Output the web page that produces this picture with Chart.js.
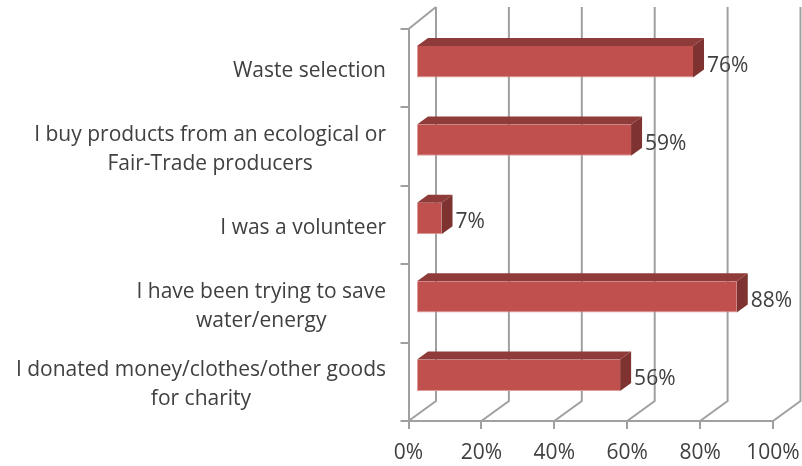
<!DOCTYPE html>
<html>
<head>
<meta charset="utf-8">
<script src="https://cdn.jsdelivr.net/npm/chart.js@4"></script>
<style>
    html, body { margin: 0; padding: 0; background: #fff; }
    #wrap { width: 802px; height: 466px; }
</style>
</head>
<body>
<div id="wrap"><canvas id="chart"></canvas></div>
<script>
    var categories = [
        ['Waste selection'],
        ['I buy products from an ecological or', 'Fair-Trade producers'],
        ['I was a volunteer'],
        ['I have been trying to save', 'water/energy'],
        ['I donated money/clothes/other goods', 'for charity']
    ];
    var values = [76, 59, 7, 88, 56];
    var xTicks = [0, 20, 40, 60, 80, 100];

    var FONT = '21px "Open Sans"';
    var TEXT = '#404040';
    var GRID = '#a0a0a0';

    // depth of the fake 3d box and of the bars inside it
    var boxDx = 27.5, boxDy = 20;
    var barDx = 7.5, barDy = 6.5;
    var faceDx = 11, faceDy = 8;

    function poly(ctx, pts, color) {
        ctx.fillStyle = color;
        ctx.beginPath();
        ctx.moveTo(pts[0][0], pts[0][1]);
        for (var i = 1; i < pts.length; i++) ctx.lineTo(pts[i][0], pts[i][1]);
        ctx.closePath();
        ctx.fill();
    }

    var box3d = {
        id: 'box3d',
        beforeDatasetsDraw: function (chart) {
            var ctx = chart.ctx, a = chart.chartArea, x = chart.scales.x;
            ctx.save();
            ctx.strokeStyle = GRID;
            ctx.lineWidth = 2;
            xTicks.forEach(function (t) {
                var px = x.getPixelForValue(t);
                ctx.beginPath();
                ctx.moveTo(px, a.bottom);
                ctx.lineTo(px + boxDx, a.bottom - boxDy);
                ctx.lineTo(px + boxDx, a.top - boxDy - 2);
                ctx.stroke();
            });
            ctx.beginPath();
            ctx.moveTo(a.left, a.top);
            ctx.lineTo(a.left + boxDx, a.top - boxDy - 2);
            ctx.stroke();
            ctx.restore();
        },
        // push the bars back into the box, then add top and side faces
        beforeDatasetDraw: function (chart) {
            var ctx = chart.ctx;
            ctx.save();
            ctx.translate(barDx, -barDy);
            chart.getDatasetMeta(0).data.forEach(function (bar) {
                var top = bar.y - bar.height / 2, bottom = bar.y + bar.height / 2;
                poly(ctx, [[bar.base, top], [bar.base + faceDx, top - faceDy], [bar.x + faceDx, top - faceDy], [bar.x, top]], '#8f3b39');
                poly(ctx, [[bar.x, top], [bar.x + faceDx, top - faceDy], [bar.x + faceDx, bottom - faceDy], [bar.x, bottom]], '#7f3331');
            });
        },
        afterDatasetDraw: function (chart) {
            chart.ctx.restore();
        },
        afterDraw: function (chart) {
            var ctx = chart.ctx, y = chart.scales.y;
            ctx.save();
            ctx.font = FONT;
            ctx.fillStyle = TEXT;
            ctx.textBaseline = 'middle';
            // category labels: centred lines, right edge on the axis
            categories.forEach(function (lines, i) {
                var widest = 0;
                lines.forEach(function (l) { widest = Math.max(widest, ctx.measureText(l).width); });
                var cy = y.getPixelForTick(i) + 3;
                ctx.textAlign = 'center';
                lines.forEach(function (l, n) {
                    ctx.fillText(l, 386 - widest / 2, cy + (n - (lines.length - 1) / 2) * 29);
                });
            });
            // value labels
            ctx.textAlign = 'left';
            chart.getDatasetMeta(0).data.forEach(function (bar, i) {
                ctx.fillText(values[i] + '%', bar.x + barDx + faceDx + 3, bar.y - barDy + 4);
            });
            ctx.restore();
        }
    };

    new Chart(document.getElementById('chart'), {
        type: 'bar',
        data: {
            labels: categories,
            datasets: [{
                data: values,
                backgroundColor: '#c0504d',
                borderColor: '#dd9c9a',
                borderWidth: { left: 1, bottom: 1 },
                borderSkipped: false,
                categoryPercentage: 1,
                barPercentage: 0.4,
                clip: false
            }]
        },
        plugins: [box3d],
        options: {
            indexAxis: 'y',
            responsive: true,
            maintainAspectRatio: false,
            animation: false,
            layout: { padding: { top: 29, right: 29, left: 0, bottom: 0 } },
            plugins: { legend: { display: false }, tooltip: { enabled: false } },
            scales: {
                x: {
                    min: 0,
                    max: 100,
                    afterBuildTicks: function (s) {
                        s.ticks = xTicks.map(function (t) { return { value: t }; });
                    },
                    afterFit: function (s) {
                        s.height = 45;
                        s.paddingLeft = 0;
                        s.paddingRight = 0;
                    },
                    grid: { drawOnChartArea: false, color: GRID, lineWidth: 2, tickLength: 8 },
                    border: { color: GRID, width: 2 },
                    ticks: {
                        color: TEXT,
                        padding: 11,
                        maxRotation: 0,
                        font: { family: 'Open Sans', size: 21 },
                        callback: function (v) { return v + '%'; }
                    }
                },
                y: {
                    afterFit: function (s) { s.width = 408.5; },
                    grid: { drawOnChartArea: false, color: GRID, lineWidth: 2, tickLength: 8 },
                    border: { color: GRID, width: 2 },
                    ticks: { display: false }
                }
            }
        }
    });
</script>
</body>
</html>
